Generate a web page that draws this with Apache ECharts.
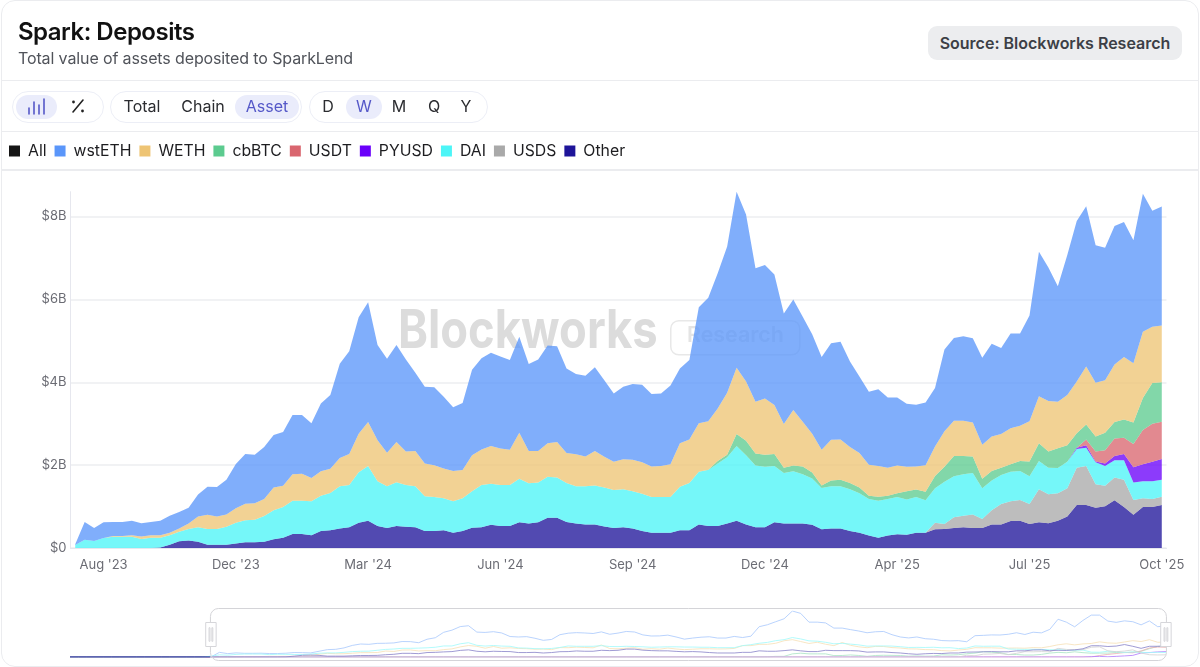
<!DOCTYPE html>
<html><head><meta charset="utf-8">
<style>
html,body{margin:0;padding:0;background:#fff;width:1200px;height:667px;overflow:hidden;font-family:Inter,sans-serif}
#chart{position:absolute;left:0;top:0;width:1200px;height:667px}
.abs{position:absolute;white-space:nowrap}
.card{position:absolute;left:1px;top:0;width:1196px;height:665px;border:1.5px solid #ebecef;border-radius:14px;pointer-events:none}
.hr{position:absolute;left:2px;width:1196px;background:#ebecef;height:1px}
.group{position:absolute;top:91px;height:30px;border:1.5px solid #eceef6;border-radius:16px;background:#fff}
.opt{position:absolute;top:106px;transform:translate(-50%,-50%);font-size:16px;color:#2b2c30;white-space:nowrap}
.on{position:absolute;top:95px;height:24px;background:#eaecfb;border-radius:12px}
.opt.act{color:#5558c8}
</style></head><body>
<div id="chart"></div>
<div class="card"></div>
<div class="hr" style="top:80px"></div>
<div class="hr" style="top:131px"></div>
<div class="hr" style="top:169px;height:2px"></div>
<div class="abs" style="left:18px;top:17px;font-size:24px;font-weight:600;letter-spacing:-.5px;color:#111;line-height:29px">Spark: Deposits</div>
<div class="abs" style="left:18px;top:49px;font-size:16px;letter-spacing:-.12px;color:#50535a;line-height:19px">Total value of assets deposited to SparkLend</div>
<div class="abs" style="left:928px;top:26px;width:254px;height:34px;background:#ecedef;border-radius:9px;text-align:center;line-height:34px;font-size:16px;font-weight:600;color:#3c3f46">Source: Blockworks Research</div>
<div class="group" style="left:12px;width:90px"></div>
<div class="group" style="left:110px;width:190px"></div>
<div class="group" style="left:309px;width:177px"></div>
<div class="on" style="left:16px;width:41px"></div>
<div class="on" style="left:235px;width:64px"></div>
<div class="on" style="left:346px;width:36px"></div>
<svg class="abs" style="left:26px;top:96px" width="22" height="22" viewBox="0 0 22 22" stroke="#5558c8" stroke-width="1.6" stroke-linecap="round" fill="none"><path d="M3 12v6M8 6v12M13 9v9M18 3v15"/></svg>
<svg class="abs" style="left:69px;top:97px" width="18" height="18" viewBox="0 0 18 18" stroke="#222" fill="#222"><path d="M14 3L4 15" stroke-width="1.6" stroke-linecap="round"/><circle cx="4.5" cy="5" r="1.4" stroke="none"/><circle cx="13.5" cy="14" r="1.4" stroke="none"/></svg>
<div class="opt" style="left:142px">Total</div>
<div class="opt" style="left:203px">Chain</div>
<div class="opt act" style="left:267px">Asset</div>
<div class="opt" style="left:328px">D</div>
<div class="opt act" style="left:364px">W</div>
<div class="opt" style="left:399px">M</div>
<div class="opt" style="left:434px">Q</div>
<div class="opt" style="left:466px">Y</div>
<script src="https://cdn.jsdelivr.net/npm/echarts@6/dist/echarts.min.js"></script>
<script>
// Values in $ billions, one per week, Aug 2023 -> Oct 2025 (116 weeks)
const other = [0,0,0,0,0,0,0,0,0,.01,
 .08,.16,.18,.15,.08,.08,.08,.11,.14,.14,
 .15,.21,.25,.34,.34,.31,.41,.43,.47,.50,
 .61,.66,.53,.48,.53,.51,.50,.41,.41,.43,
 .37,.41,.49,.50,.56,.53,.53,.62,.59,.62,
 .73,.73,.63,.59,.57,.57,.52,.48,.50,.47,
 .41,.37,.37,.37,.43,.43,.57,.53,.53,.59,
 .66,.57,.50,.50,.62,.59,.59,.59,.56,.45,
 .47,.47,.41,.37,.30,.25,.30,.33,.32,.37,
 .37,.45,.46,.48,.50,.48,.48,.57,.57,.65,
 .66,.58,.62,.60,.66,.76,1.04,1.04,.97,1.01,
 1.15,.99,.80,.99,.99,1.04];
const usds = [0,0,0,0,0,0,0,0,0,0, 0,0,0,0,0,0,0,0,0,0, 0,0,0,0,0,0,0,0,0,0,
 0,0,0,0,0,0,0,0,0,0, 0,0,0,0,0,0,0,0,0,0, 0,0,0,0,0,0,0,0,0,0,
 0,0,0,0,0,0,0,0,0,0, 0,0,0,0,0,0,0,0,0,0, 0,0,0,0,0,0,0,0,0,0,
 0,.16,.12,.26,.28,.33,.22,.34,.49,.48,
 .50,.48,.80,.70,.66,.68,.90,.94,.57,.49,
 .55,.66,.36,.21,.19,.20];
const dai = [.07,.20,.17,.24,.27,.27,.27,.22,.25,.24,
 .23,.23,.28,.35,.38,.38,.43,.50,.53,.54,
 .62,.70,.74,.80,.80,.82,.85,.90,1.02,1.02,
 1.22,1.32,1.08,1.01,1.06,1.01,.99,.84,.82,.77,
 .76,.79,.88,1.02,.99,.99,.99,1.05,.97,.96,
 .99,.97,.94,.90,.92,.94,.94,.92,.92,.90,
 .90,.86,.86,.86,1.05,1.14,1.27,1.35,1.51,1.60,
 1.80,1.67,1.49,1.46,1.36,1.22,1.26,1.19,1.12,1.00,
 1.02,1.02,1.01,.95,.88,.89,.88,.90,.85,.86,
 .78,.83,1.02,.99,1.00,1.00,.74,.72,.70,.71,
 .70,.67,.68,.64,.61,.64,.45,.44,.53,.48,
 .42,.47,.42,.41,.43,.41];
const pyusd = [0,0,0,0,0,0,0,0,0,0, 0,0,0,0,0,0,0,0,0,0, 0,0,0,0,0,0,0,0,0,0,
 0,0,0,0,0,0,0,0,0,0, 0,0,0,0,0,0,0,0,0,0, 0,0,0,0,0,0,0,0,0,0,
 0,0,0,0,0,0,0,0,0,0, 0,0,0,0,0,0,0,0,0,0, 0,0,0,0,0,0,0,0,0,0,
 0,0,0,0,0,0,0,0,0,0,
 0,0,0,0,0,0,.03,.06,.02,.06,
 .10,.15,.37,.41,.47,.50];
const usdt = [0,0,0,0,0,0,0,0,0,0, 0,0,0,0,0,0,0,0,0,0, 0,0,0,0,0,0,0,0,0,0,
 0,0,0,0,0,0,0,0,0,0, 0,0,0,0,0,0,0,0,0,0, 0,0,0,0,0,0,0,0,0,0,
 0,0,0,0,0,0,0,0,0,0, 0,0,0,0,0,0,0,0,0,0, 0,0,0,0,0,0,0,0,0,0,
 0,0,0,0,0,0,0,0,0,0,
 0,0,0,0,0,0,0,.14,.24,.32,
 .42,.39,.56,.83,.92,.90];
const cbbtc = [0,0,0,0,0,0,0,0,0,0, 0,0,0,0,0,0,0,0,0,0, 0,0,0,0,0,0,0,0,0,0,
 0,0,0,0,0,0,0,0,0,0, 0,0,0,0,0,0,0,0,0,0, 0,0,0,0,0,0,0,0,0,0,
 0,0,0,0,0,0,0,.01,.06,.06,
 .29,.35,.29,.29,.29,.13,.14,.19,.14,.06,
 .14,.16,.15,.14,.08,.10,.08,.09,.20,.18,
 .21,.30,.36,.49,.44,.40,.23,.23,.18,.18,
 .24,.36,.43,.39,.48,.40,.35,.36,.36,.42,
 .40,.44,.52,.77,.98,.95];
const weth = [0,0,0,0,.02,.02,.04,.06,.06,.06,
 .06,.08,.13,.26,.34,.30,.30,.35,.40,.40,
 .41,.55,.51,.64,.65,.56,.59,.58,.68,.75,
 .93,1.06,.99,.81,.97,.81,.85,.79,.77,.72,
 .73,.68,.87,.86,.91,.88,.85,1.11,.78,.76,
 .81,.86,.72,.77,.72,.83,.74,.68,.72,.76,
 .76,.74,.75,.79,1.05,1.05,1.17,1.17,1.27,1.50,
 1.60,1.43,1.25,1.36,1.18,1.05,1.34,1.08,.94,.86,
 .98,.97,.87,.83,.75,.74,.68,.67,.59,.56,
 .64,.71,.86,.85,.85,.82,.82,.83,.81,.87,
 .85,.97,1.13,1.22,1.12,1.21,1.25,1.40,1.30,1.27,
 1.39,1.51,1.43,1.60,1.36,1.37];
const wsteth = [.02,.43,.31,.38,.34,.34,.35,.32,.32,.35,
 .41,.40,.38,.53,.68,.71,.84,1.07,1.20,1.17,
 1.26,1.27,1.30,1.43,1.42,1.32,1.64,1.78,2.28,2.48,
 2.81,2.89,2.30,2.27,2.34,2.22,1.89,1.85,1.88,1.73,
 1.54,1.62,2.06,2.20,2.25,2.22,2.17,2.32,2.10,2.21,
 2.36,2.31,2.04,1.94,1.95,2.02,1.85,1.65,1.75,1.83,
 1.87,1.75,1.75,1.90,1.80,1.92,2.80,2.98,3.26,3.53,
 4.25,4.03,3.22,3.22,3.15,2.67,2.67,2.53,2.40,2.24,
 2.33,2.36,2.06,1.85,1.76,1.85,1.69,1.64,1.52,1.49,
 1.51,1.41,1.97,2.00,2.04,2.03,2.10,2.24,2.08,2.29,
 2.23,2.55,3.49,3.22,2.79,3.38,3.87,3.87,3.32,3.20,
 3.34,3.26,2.97,3.33,2.80,2.87];
// The overview strip also shows the flat weeks before the main window
const preWindow = [0,0,0,0,0,0,0,0,0,0,0,0,0,0,0,0,0];

const seriesDefs = [ // bottom of stack first
 ['Other', other, '#1e1499'],
 ['USDS', usds, '#a9a9a9'],
 ['DAI', dai, '#4cf5f7'],
 ['PYUSD', pyusd, '#6a00fa'],
 ['USDT', usdt, '#d9666f'],
 ['cbBTC', cbbtc, '#5ccb8f'],
 ['WETH', weth, '#eec474'],
 ['wstETH', wsteth, '#5a96fa']
];
const legendOrder = ['All','wstETH','WETH','cbBTC','USDT','PYUSD','DAI','USDS','Other'];
const yTicks = {max: 8.6, step: 2};
const firstWeek = Date.UTC(2023,7,6);
const WEEK = 7*864e5;
const months = ['Jan','Feb','Mar','Apr','May','Jun','Jul','Aug','Sep','Oct','Nov','Dec'];
const weekLabel = i => { const d = new Date(firstWeek + i*WEEK);
  return months[d.getUTCMonth()] + " '" + String(d.getUTCFullYear()).slice(2); };
const mainCats = other.map((_,i)=>weekLabel(i));
const miniCats = preWindow.map((_,i)=>weekLabel(i-preWindow.length)).concat(mainCats);
const total = other.map((_,i)=>+seriesDefs.reduce((s,d)=>s+d[1][i],0).toFixed(2));

const series = [];
series.push({name:'All',type:'line',data:total,showSymbol:false,silent:true,
  itemStyle:{color:'#151515'},lineStyle:{opacity:0,width:0},xAxisIndex:0,yAxisIndex:0,z:1});
seriesDefs.forEach(d=>{
  series.push({name:d[0],type:'line',stack:'assets',data:d[1],showSymbol:false,
    itemStyle:{color:d[2]},lineStyle:{width:0},areaStyle:{color:d[2],opacity:0.77},
    xAxisIndex:0,yAxisIndex:0,z:2,silent:true});
});
seriesDefs.slice().reverse().forEach(d=>{
  series.push({name:d[0],type:'line',data:preWindow.concat(d[1]),showSymbol:false,
    itemStyle:{color:d[2]},lineStyle:{width:1,color:d[2],opacity:0.85},
    xAxisIndex:1,yAxisIndex:1,z:2,silent:true});
});
const axisGrey='#e6e7ee';
const chart = echarts.init(document.getElementById('chart'),null,{renderer:'canvas'});
chart.setOption({
  animation:false,
  textStyle:{fontFamily:'Inter'},
  legend:{left:9,top:143,padding:0,itemGap:8,itemWidth:11,itemHeight:11,icon:'rect',selectedMode:false,
    data:legendOrder,textStyle:{fontSize:15.8,color:'#1d1d20',fontFamily:'Inter',padding:[0,0,0,3]}},
  grid:[
    {left:70.5,right:33.5,top:191.7,height:356.3,containLabel:false},
    {left:70,right:34,top:611,height:46}
  ],
  xAxis:[
    {type:'category',gridIndex:0,data:mainCats,boundaryGap:true,
     axisLine:{lineStyle:{color:axisGrey}},axisTick:{show:false},
     axisLabel:{color:'#6b6c74',fontSize:13,fontFamily:'Inter',margin:11,hideOverlap:false,
       interval:(idx)=>(idx-3)%14===0}},
    {type:'category',gridIndex:1,data:miniCats,boundaryGap:false,show:false}
  ],
  yAxis:[
    {type:'value',gridIndex:0,min:0,max:yTicks.max,interval:yTicks.step,
     axisLine:{show:true,lineStyle:{color:axisGrey}},axisTick:{show:false},
     splitLine:{show:true,showMaxLine:false,lineStyle:{color:'#eceef1',width:1.5}},
     axisLabel:{showMaxLabel:false,color:'#6b6c74',fontSize:13,fontFamily:'Inter',margin:4,
       formatter:v=>v===0?'$0':'$'+v+'B'}},
    {type:'value',gridIndex:1,min:0,max:4.25,show:false,splitLine:{show:false}}
  ],
  dataZoom:[{type:'slider',xAxisIndex:0,start:0,end:100,left:209,width:957,top:608,height:53,
    showDataShadow:false,showDetail:false,brushSelect:false,moveHandleSize:0,
    borderColor:'#d4d4d8',borderRadius:8,backgroundColor:'transparent',
    fillerColor:'rgba(255,255,255,0.5)',
    handleIcon:'path://M0 0h10v23h-10z M3.2 5h.9v13h-.9z M5.9 5h.9v13h-.9z',
    handleSize:24,handleStyle:{color:'#fff',borderColor:'#d6d6da',borderWidth:1},
    dataBackground:{lineStyle:{opacity:0},areaStyle:{opacity:0}},
    selectedDataBackground:{lineStyle:{opacity:0},areaStyle:{opacity:0}}}],
  graphic:[
    {type:'text',x:398,y:305,z:0,silent:true,scaleX:0.84,style:{text:'Blockworks',font:'700 54px Inter',fill:'#dcdcdc'}},
    {type:'rect',left:670,top:320,z:0,silent:true,shape:{width:129,height:34,r:8},style:{fill:'transparent',stroke:'#e8e8e8',lineWidth:1.5}},
    {type:'text',left:687,top:325,z:0,silent:true,style:{text:'Research',font:'600 21.4px Inter',fill:'#e4e4e4'}}
  ],
  series
});
</script>
</body></html>
